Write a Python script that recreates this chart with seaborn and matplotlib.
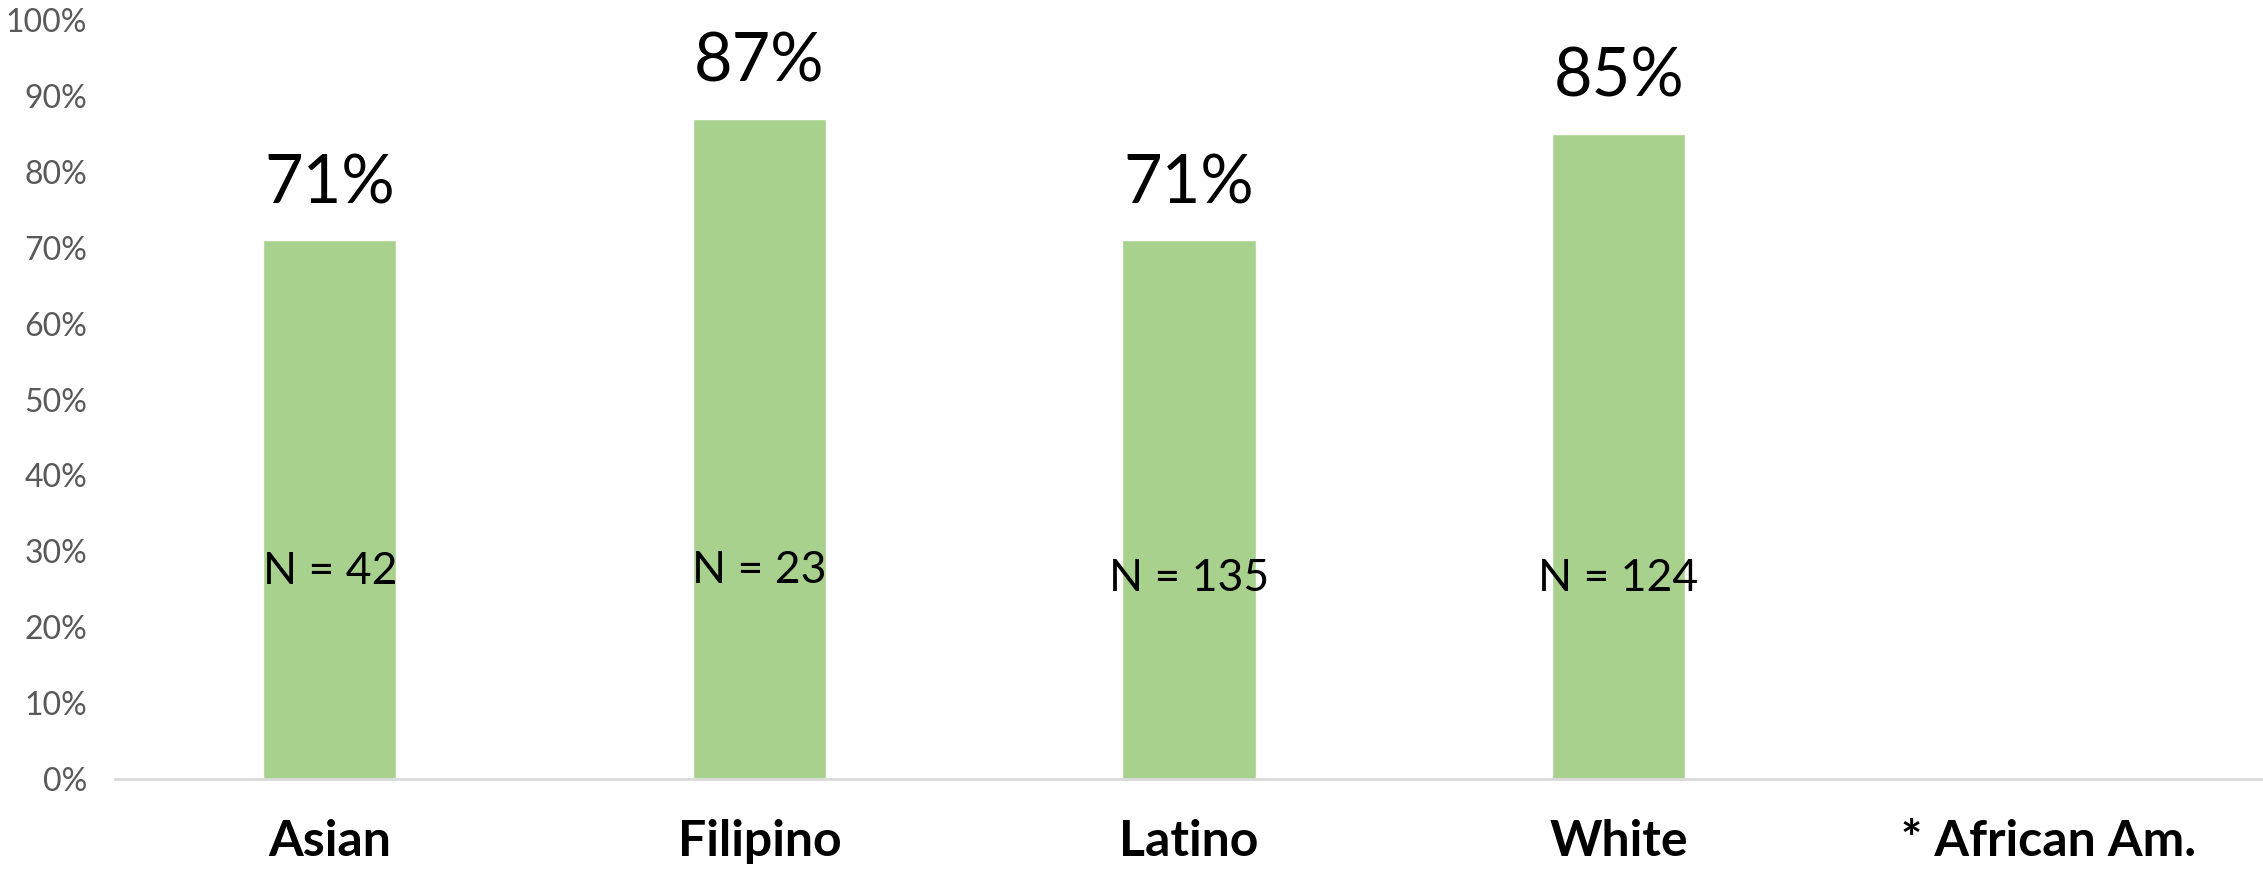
import numpy as np
import pandas as pd
import matplotlib
matplotlib.use("Agg")
import matplotlib.pyplot as plt
import seaborn as sns
from matplotlib.ticker import FuncFormatter

categories = ["Asian", "Filipino", "Latino", "White", "* African Am."]
values = [71, 87, 71, 85, np.nan]
value_labels = ["71%", "87%", "71%", "85%", ""]
n_labels = ["N = 42", "N = 23", "N = 135", "N = 124", ""]

sns.set_theme(style="white")
plt.rcParams['font.family'] = ['Lato', 'DejaVu Sans']

df = pd.DataFrame({"group": categories, "pct": values})

W, H, DPI = 2263, 872, 100
fig = plt.figure(figsize=(W / DPI, H / DPI), dpi=DPI)
ax = fig.add_axes([115 / W, 93 / H, (W - 115) / W, (852 - 93) / H])

sns.barplot(data=df, x="group", y="pct", order=categories, color="#A9D18E",
            width=0.31, saturation=1, ax=ax, errorbar=None)

ax.set_ylim(0, 100)
ax.set_xlim(-0.5, 4.5)
ax.set_yticks(np.arange(0, 101, 10))
ax.yaxis.set_major_formatter(FuncFormatter(lambda v, p: f"{int(v)}%"))
ax.tick_params(axis="y", labelsize=23, labelcolor="#595959", length=0, pad=20)
ax.tick_params(axis="x", labelsize=36, length=0, pad=29)
for t in ax.get_xticklabels():
    t.set_fontweight("bold")
    t.set_color("black")
ax.set_xlabel("")
ax.set_ylabel("")
for s in ["top", "right", "left"]:
    ax.spines[s].set_visible(False)
ax.spines["bottom"].set_color("#D9D9D9")
ax.spines["bottom"].set_linewidth(2)
ax.grid(False)

# value labels above bars
for i, (v, lab) in enumerate(zip(values, value_labels)):
    if lab:
        ax.annotate(lab, (i, v), xytext=(0, 18), textcoords="offset points",
                    ha="center", va="bottom", fontsize=48, color="black")

# N labels inside bars (layout positions)
n_label_y = [27.3, 27.5, 26.4, 26.4, 0]
for i, (lab, yy) in enumerate(zip(n_labels, n_label_y)):
    if lab:
        ax.text(i, yy, lab, ha="center", va="center", fontsize=32, color="black")

fig.savefig("out.png", dpi=DPI)
